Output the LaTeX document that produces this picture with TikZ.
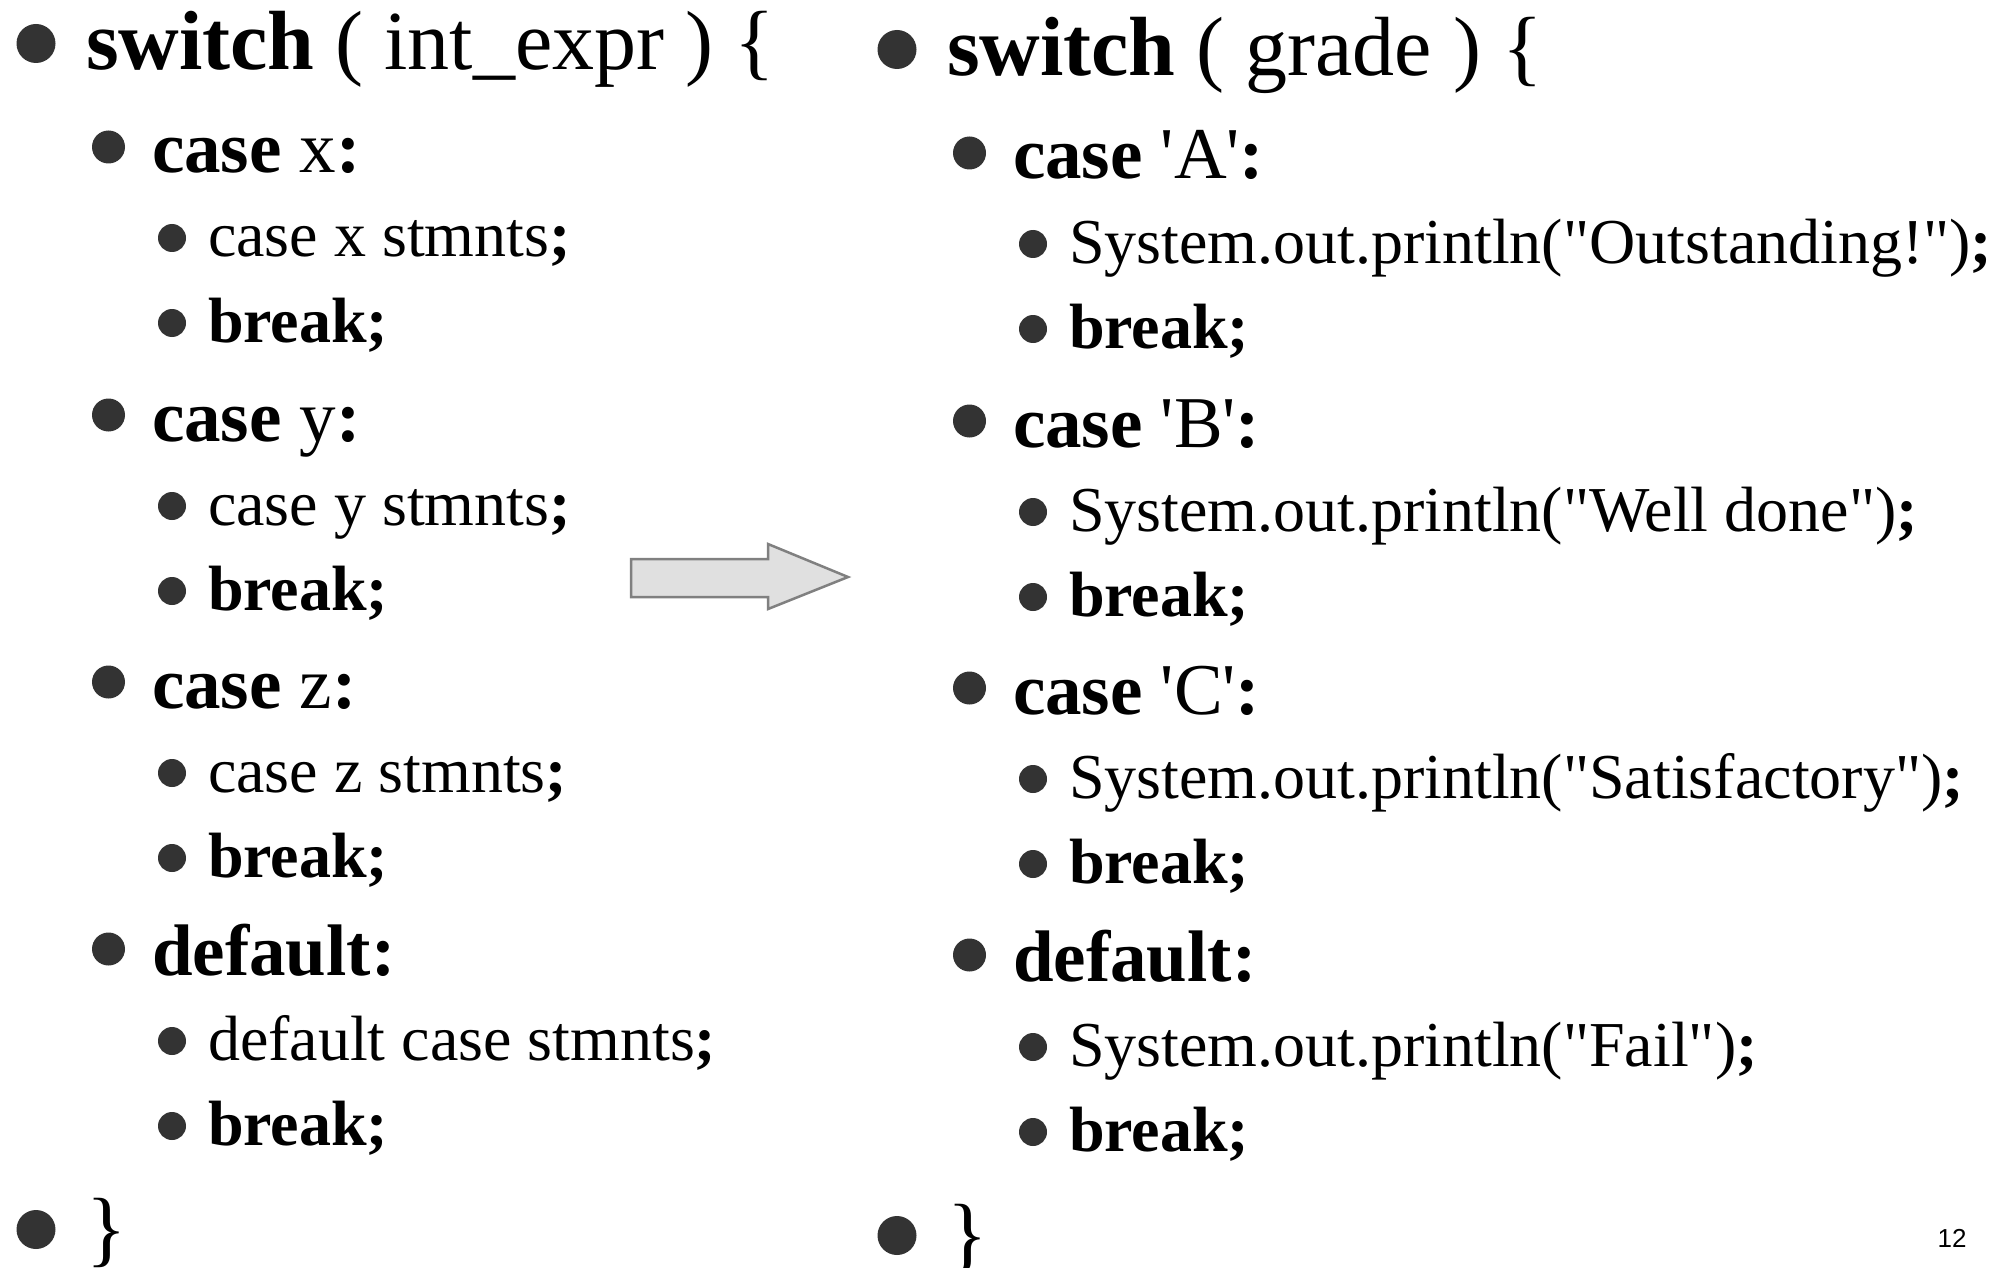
\documentclass[tikz,border=0pt]{standalone}
\usepackage{fontspec}
\newfontfamily\slidefont{Liberation Serif}
\newfontfamily\pagefont{Liberation Sans}
\definecolor{dotgray}{HTML}{333333}
\definecolor{arrowfill}{HTML}{E0E0E0}
\definecolor{arrowline}{HTML}{808080}
\tikzset{
  every node/.style={inner sep=0pt, outer sep=0pt, anchor=base west},
  lone/.style={font=\slidefont\fontsize{84}{100}\selectfont},
  ltwo/.style={font=\slidefont\fontsize{73}{88}\selectfont},
  lthree/.style={font=\slidefont\fontsize{64}{77}\selectfont},
  dot/.style={circle, fill=dotgray, anchor=center},
  dotone/.style={dot, minimum size=39pt},
  dottwo/.style={dot, minimum size=33pt},
  dotthree/.style={dot, minimum size=28pt}
}
\begin{document}
\begin{tikzpicture}[x=1pt, y=-1pt]
    \useasboundingbox[fill=white] (0,0) rectangle (2003,1268);
    % left column
    \node[lone] (s1) at (86, 70) {\textbf{switch} ( int\_expr ) \{};
    \node[ltwo] (c1) at (152, 173) {\textbf{case} x\textbf{:}};
    \node[lthree] (x1) at (208, 257) {case x stmnts\textbf{;}};
    \node[lthree] (k1) at (208, 342) {\textbf{break;}};
    \node[ltwo] (c2) at (152, 441) {\textbf{case} y\textbf{:}};
    \node[lthree] (x2) at (208, 525) {case y stmnts\textbf{;}};
    \node[lthree] (k2) at (208, 610) {\textbf{break;}};
    \node[ltwo] (c3) at (152, 708) {\textbf{case} z\textbf{:}};
    \node[lthree] (x3) at (208, 792) {case z stmnts\textbf{;}};
    \node[lthree] (k3) at (208, 877) {\textbf{break;}};
    \node[ltwo] (d1) at (152, 975) {\textbf{default:}};
    \node[lthree] (x4) at (208, 1060) {default case stmnts\textbf{;}};
    \node[lthree] (k4) at (208, 1145) {\textbf{break;}};
    \node[lone] (e1) at (86, 1256) {\}};
    % right column
    \begin{scope}[shift={(861,6)}]
    \node[lone] (s2) at (86, 70) {\textbf{switch} ( grade ) \{};
    \node[ltwo] (ca) at (152, 173) {\textbf{case} 'A'\textbf{:}};
    \node[lthree] (pa) at (208, 257) {System.out.println("Outstanding!")\textbf{;}};
    \node[lthree] (ka) at (208, 342) {\textbf{break;}};
    \node[ltwo] (cb) at (152, 441) {\textbf{case} 'B'\textbf{:}};
    \node[lthree] (pb) at (208, 525) {System.out.println("Well done")\textbf{;}};
    \node[lthree] (kb) at (208, 610) {\textbf{break;}};
    \node[ltwo] (cc) at (152, 708) {\textbf{case} 'C'\textbf{:}};
    \node[lthree] (pc) at (208, 792) {System.out.println("Satisfactory")\textbf{;}};
    \node[lthree] (kc) at (208, 877) {\textbf{break;}};
    \node[ltwo] (dd) at (152, 975) {\textbf{default:}};
    \node[lthree] (pd) at (208, 1060) {System.out.println("Fail")\textbf{;}};
    \node[lthree] (kd) at (208, 1145) {\textbf{break;}};
    \node[lone] (e2) at (86, 1256) {\}};
    \end{scope}
    % bullets
    \foreach \n in {s1,e1,s2,e2}
        \node[dotone] (b-\n) at ([shift={(-50,-26.5)}]\n.base west) {};
    \foreach \n in {c1,c2,c3,d1,ca,cb,cc,dd}
        \node[dottwo] (b-\n) at ([shift={(-43.5,-26)}]\n.base west) {};
    \foreach \n in {x1,k1,x2,k2,x3,k3,x4,k4,pa,ka,pb,kb,pc,kc,pd,kd}
        \node[dotthree] (b-\n) at ([shift={(-36,-19)}]\n.base west) {};
    % arrow
    \draw[fill=arrowfill, draw=arrowline, line width=2.5pt, line join=miter]
        (631,559) -- (768,559) -- (768,544) -- (848,577) -- (768,609)
        -- (768,597) -- (631,597) -- cycle;
    % page number
    \node[anchor=center, font=\pagefont\fontsize{26}{30}\selectfont] (num) at (1952,1238) {12};
\end{tikzpicture}
\end{document}
